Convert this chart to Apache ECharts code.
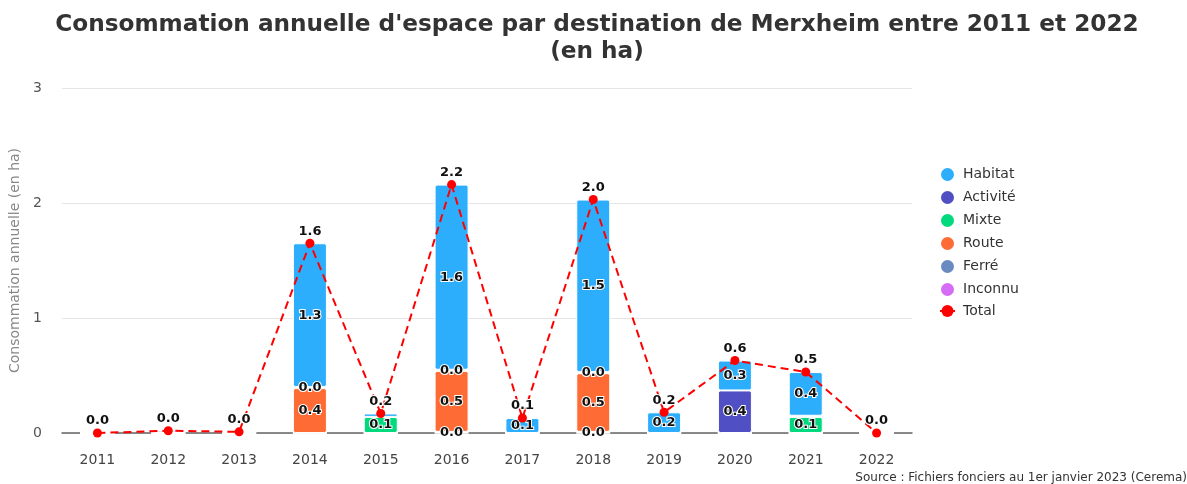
<!DOCTYPE html>
<html>
<head>
<meta charset="utf-8">
<script src="https://cdn.jsdelivr.net/npm/echarts@6/dist/echarts.min.js"></script>
<style>html,body{margin:0;padding:0;background:#fff;}#c{width:1187px;height:484px;}</style>
</head>
<body>
<div id="c"></div>
<script>
const years = ['2011','2012','2013','2014','2015','2016','2017','2018','2019','2020','2021','2022'];
const habitat  = [0, 0, 0, 1.25, 0.03, 1.61, 0.13, 1.50, 0.18, 0.26, 0.38, 0];
const activite = [0, 0.02, 0, 0, 0, 0, 0, 0, 0, 0.37, 0.01, 0];
const mixte    = [0, 0, 0, 0.01, 0.14, 0.01, 0, 0.01, 0, 0, 0.14, 0];
const route    = [0, 0, 0, 0.39, 0, 0.53, 0, 0.51, 0, 0, 0, 0];
const ferre    = [0, 0, 0, 0, 0, 0.01, 0, 0.01, 0, 0, 0, 0];
const inconnu  = [0, 0, 0, 0, 0, 0, 0, 0, 0, 0, 0, 0];
const total    = [0, 0.02, 0.01, 1.65, 0.17, 2.16, 0.13, 2.03, 0.18, 0.63, 0.53, 0];
const yTicks = [0, 1, 2, 3];

const font = 'DejaVu Sans';
const barLabel = {
  show: true, position: 'inside', fontFamily: font, fontSize: 13, fontWeight: 'bold',
  color: '#111', textBorderColor: '#fff', textBorderWidth: 2,
  formatter: p => (total[p.dataIndex] >= 0.05 && p.value > 0 ? p.value.toFixed(1) : '')
};
function bar(name, data, color) {
  return {
    name, type: 'bar', stack: 'a', data, barWidth: '48%',
    itemStyle: { color, borderColor: '#fff', borderWidth: 1, borderRadius: 2 },
    label: barLabel,
    labelLayout: { hideOverlap: true },
    emphasis: { disabled: true }
  };
}
const chart = echarts.init(document.getElementById('c'), null, { renderer: 'canvas' });
chart.setOption({
  animation: false,
  textStyle: { fontFamily: font },
  title: {
    text: "Consommation annuelle d'espace par destination de Merxheim entre 2011 et 2022\n(en ha)",
    left: 592, textAlign: 'center', top: 6,
    textStyle: { fontFamily: font, fontSize: 23.2, fontWeight: 'bold', color: '#333', lineHeight: 27 }
  },
  legend: {
    orient: 'vertical', left: 934, top: 161, itemGap: 6, itemWidth: 15, itemHeight: 15,
    textStyle: { fontFamily: font, fontSize: 14, color: '#333', padding: [0, 0, 0, 3] },
    data: [
      { name: 'Habitat', icon: 'circle' }, { name: 'Activité', icon: 'circle' },
      { name: 'Mixte', icon: 'circle' }, { name: 'Route', icon: 'circle' },
      { name: 'Ferré', icon: 'circle' }, { name: 'Inconnu', icon: 'circle' },
      { name: 'Total' }
    ]
  },
  grid: { left: 62, right: 275, top: 88, bottom: 51 },
  xAxis: {
    type: 'category', data: years,
    axisLine: { lineStyle: { color: '#666', width: 1.5 } },
    axisTick: { show: false },
    axisLabel: { fontFamily: font, fontSize: 14, color: '#444', margin: 20 }
  },
  yAxis: {
    type: 'value', min: yTicks[0], max: yTicks[yTicks.length - 1], interval: 1,
    name: 'Consommation annuelle (en ha)', nameLocation: 'middle', nameGap: 40,
    nameTextStyle: { fontFamily: font, fontSize: 14, color: '#888' },
    axisLabel: { fontFamily: font, fontSize: 14, color: '#555', margin: 20 },
    splitLine: { lineStyle: { color: '#e6e6e6' } }
  },
  graphic: [{
    type: 'text', right: 0, bottom: 0,
    style: { text: 'Source : Fichiers fonciers au 1er janvier 2023 (Cerema)', fontFamily: font, fontSize: 12, fill: '#333' }
  }],
  series: [
    bar('Inconnu', inconnu, '#d56cf6'),
    bar('Ferré', ferre, '#6a8bbf'),
    bar('Route', route, '#ff6b35'),
    bar('Mixte', mixte, '#00d97e'),
    bar('Activité', activite, '#5050c4'),
    bar('Habitat', habitat, '#2daefd'),
    {
      name: 'Total', type: 'line', data: total, z: 10,
      symbol: 'circle', symbolSize: 9,
      lineStyle: { color: '#ff0000', width: 2, type: [8, 5] },
      itemStyle: { color: '#ff0000' },
      label: { show: true, position: 'top', distance: 1, fontFamily: font, fontSize: 13, fontWeight: 'bold',
        color: '#111', textBorderColor: '#fff', textBorderWidth: 2, formatter: p => p.value.toFixed(1) },
      emphasis: { disabled: true }
    }
  ]
});
</script>
</body>
</html>
